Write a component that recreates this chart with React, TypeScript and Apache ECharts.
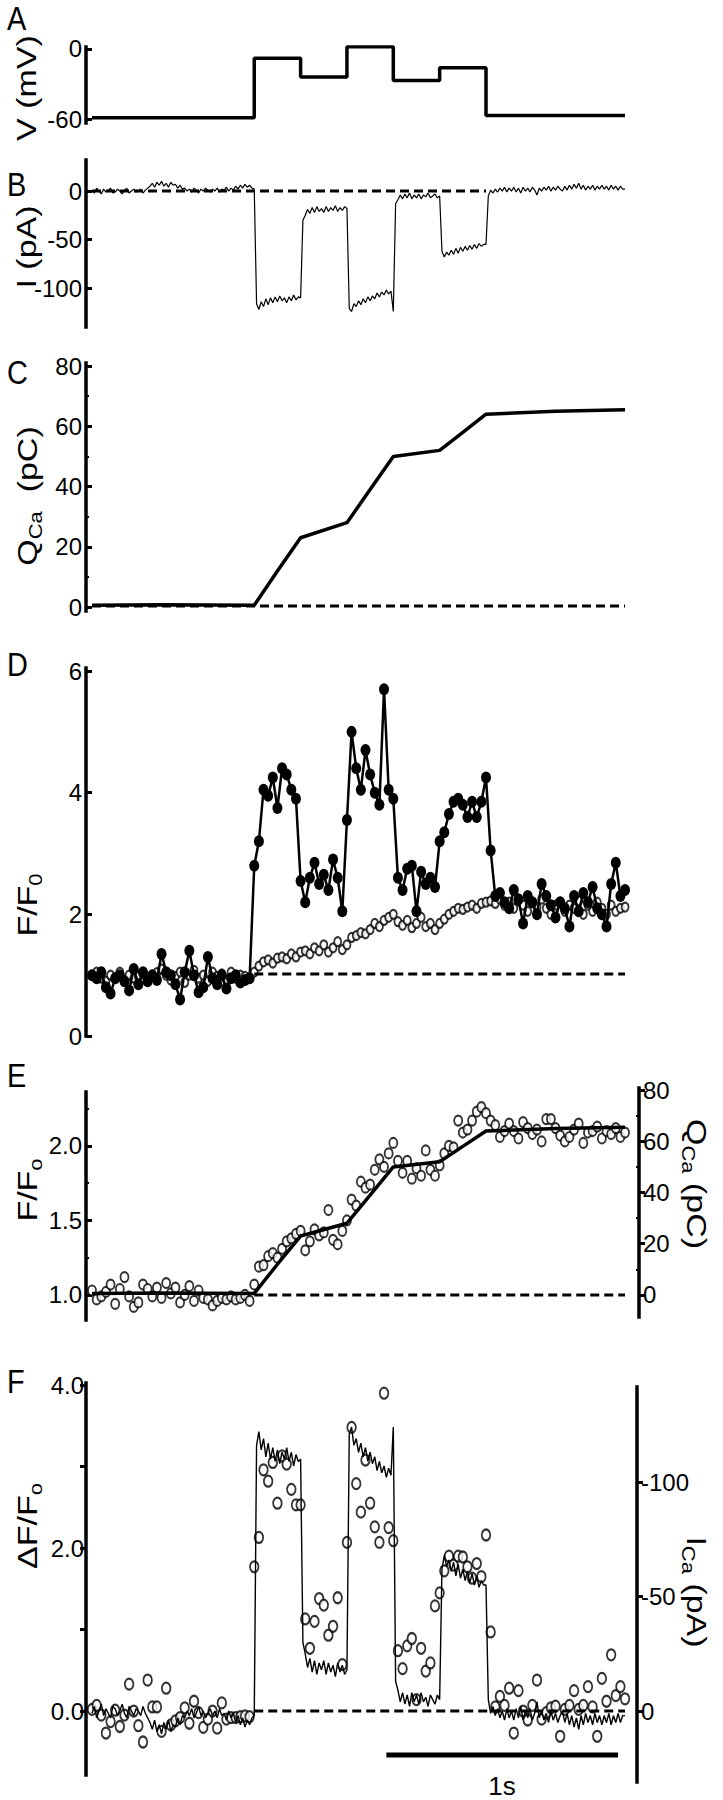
import React, { useEffect, useRef } from "react";
import * as echarts from "echarts";

const FONT = '"Liberation Sans", Arial, Helvetica, sans-serif';

// ---------- time base (ms) ----------
const traceStepMs = 10;
const imageStepMs = 20;

// ---------- A: voltage protocol ----------
const stepEdgesMs = [0, 700, 900, 1100, 1300, 1500, 1700, 2300];
const voltageMV = [-59, -8, -24, 2, -27, -16, -57];
const vTicks = [0, -60];

// ---------- B / F: calcium current (pA), one sample every 10 ms ----------
const currentPA = [
  1, -2, 3, 0, -3, 2, -1, 1, 3, -2,
  -1, 2, 0, -3, 1, 3, -2, 0, 2, -1,
  0, 2, -2, 1, 3, 5, 8, 4, 9, 6,
  10, 5, 8, 4, 9, 6, 7, 3, 6, 2,
  3, 0, 2, -1, 3, 1, -2, 2, 0, 3,
  1, -1, 2, 0, 3, -1, 2, 1, 4, 0,
  3, 1, 5, 2, 6, 3, 7, 4, 6, 3,
  2, -116, -122, -114, -119, -111, -117, -110, -115, -109,
  -114, -108, -113, -110, -115, -109, -113, -107, -112, -109,
  -110, -30, -25, -19, -23, -17, -22, -16, -21, -18,
  -22, -16, -21, -17, -20, -15, -21, -17, -20, -16,
  -18, -121, -124, -116, -119, -113, -117, -111, -115, -109,
  -113, -108, -111, -105, -109, -104, -107, -102, -106, -103,
  -124, -13, -9, -4, -8, -3, -7, -2, -8, -4,
  -7, -3, -8, -4, -6, -2, -7, -5, -3, -7,
  -5, -62, -68, -63, -66, -61, -65, -59, -64, -58,
  -62, -57, -61, -56, -60, -55, -59, -54, -57, -55,
  -55, -5, 1, -2, 2, -1, 3, 0, 4, -1,
  3, 0, 4, -1, 3, -2, 4, 0, 3, -1,
  4, 1, -4, 3, 0, 4, 1, 5, 0, 4,
  1, 5, 2, 0, 5, 1, 6, 2, 7, 3,
  8, 2, 6, 1, 5, 2, 6, 1, 5, 2,
  6, 2, 5, 1, 6, 2, 5, 1, 5, 2,
  2,
];
const iTicksB = [0, -50, -100];
const iTicksF = [-100, -50, 0];
const zeroLineB = [[0, 0], [1700, 0]];

// ---------- C / E: integrated charge (pC) ----------
const chargeTimeMs = [0, 300, 700, 800, 900, 1100, 1200, 1300, 1500, 1600, 1700, 2000, 2300];
const chargePC = [0.6, 0.8, 0.6, 12, 23, 28, 39, 50, 52, 58, 64, 65, 65.5];
const qTicks = [0, 20, 40, 60, 80];
const qMinorTicks = [10, 30, 50, 70];
const zeroLineC = [[0, 0.4], [2300, 0.4]];

// ---------- D: F/F0, one image every 20 ms ----------
const fluoFilledD = [
  1.0, 0.95, 1.05, 0.8, 0.7, 0.95, 1.0, 0.9, 0.75, 1.1,
  0.85, 1.05, 0.9, 1.0, 0.92, 1.35, 1.05, 1.0, 0.85, 0.6,
  1.05, 1.4, 1.0, 0.72, 0.8, 1.3, 0.95, 0.85, 1.0, 0.78,
  0.95, 1.0, 0.88, 0.92, 0.95,
  2.8, 3.2, 4.05, 3.95, 4.25, 3.75, 4.4, 4.3, 4.05, 3.9,
  2.55, 2.2, 2.6, 2.85, 2.5, 2.65, 2.4, 2.9, 2.6, 2.05,
  3.55, 5.0, 4.4, 4.05, 4.7, 4.3, 4.0, 3.8, 5.7, 4.05,
  3.9, 2.6, 2.4, 2.75, 2.8, 2.05, 2.7, 2.5, 2.6, 2.45,
  3.2, 3.35, 3.65, 3.85, 3.9, 3.8, 3.6, 3.85, 3.6, 3.85,
  4.25, 3.05, 2.3, 2.35, 2.2, 2.1, 2.4, 2.25, 1.85, 2.3,
  2.2, 2.0, 2.5, 2.3, 2.15, 1.95, 2.2, 2.1, 1.8, 2.3,
  2.05, 2.35, 2.2, 2.45, 2.1, 2.0, 1.8, 2.5, 2.85, 2.3,
  2.4,
];
const fluoOpenD = [
  1.0, 1.05, 0.95, 0.9, 1.0, 0.95, 1.05, 0.9, 1.0, 0.95,
  0.98, 1.02, 0.94, 1.0, 1.04, 1.1, 1.0, 0.92, 0.98, 1.05,
  0.88, 1.0, 1.08, 0.95, 1.0, 0.9, 1.05, 0.98, 1.02, 0.92,
  1.05, 0.95, 1.0, 0.98, 0.95,
  1.05, 1.15, 1.22, 1.25, 1.2, 1.28, 1.3, 1.27, 1.35, 1.3,
  1.38, 1.4, 1.35, 1.45, 1.4, 1.5, 1.38, 1.45, 1.55, 1.42,
  1.5, 1.62, 1.65, 1.7, 1.68, 1.75, 1.85, 1.8, 1.9, 1.95,
  2.0, 1.88, 1.82, 1.9, 1.78, 1.85, 1.95, 1.8, 1.85, 1.75,
  1.85, 1.92, 2.0, 2.05, 2.1, 2.08, 2.12, 2.15, 2.1, 2.18,
  2.2, 2.22, 2.18, 2.25, 2.15, 2.2, 2.1, 2.22, 2.15, 2.05,
  2.2, 2.12, 2.25, 2.1, 2.0, 2.15, 2.2, 2.05, 2.15, 2.1,
  2.22, 2.0, 2.15, 2.05, 2.2, 2.1, 2.0, 2.15, 2.05, 2.1,
  2.12,
];
const dTicks = [0, 2, 4, 6];
const baselineD = [[700, 1.02], [2300, 1.02]];

// ---------- E: F/F0 (open circles) ----------
const fluoOpenE = [
  1.03, 0.97, 0.99, 1.02, 1.07, 0.94, 1.04, 1.12, 0.99, 0.92,
  0.95, 1.07, 1.04, 0.99, 1.05, 0.98, 1.08, 1.01, 1.05, 0.95,
  1.0, 1.06, 0.96, 1.03, 0.98,
  0.97, 0.93, 0.96, 0.98, 0.97, 0.99, 0.97, 0.98, 1.0, 0.96,
  1.07, 1.19, 1.2, 1.26, 1.28, 1.25, 1.31, 1.36, 1.38, 1.41,
  1.43, 1.3, 1.36, 1.44, 1.4, 1.42, 1.57, 1.37, 1.34, 1.43,
  1.5, 1.64, 1.6, 1.76, 1.72, 1.74, 1.84, 1.91, 1.86, 1.95,
  2.02, 1.9, 1.82, 1.9, 1.78, 1.85, 1.8, 1.97, 1.84, 1.8,
  1.87, 1.95, 2.0, 1.99, 2.17, 2.09, 2.11, 2.17, 2.23, 2.26,
  2.22, 2.17, 2.14, 2.06, 2.1, 2.15, 2.1, 2.05, 2.16, 2.12,
  2.08, 2.11, 2.03, 2.18, 2.18, 2.12, 2.07, 2.03, 2.06, 2.11,
  2.15, 2.02, 2.09, 2.1, 2.13, 2.05, 2.1, 2.08, 2.12, 2.06,
  2.09,
];
const eTicks = [1.0, 1.5, 2.0];
const eMinorTicks = [1.25, 1.75, 2.25];
const zeroLineE = [[700, 0], [2300, 0]];

// ---------- F: dF/F0 (open circles) ----------
const dFF0 = [
  0.02, 0.07, -0.05, -0.27, -0.13, 0.01, -0.19, -0.05, 0.33, 0.0,
  -0.18, -0.38, 0.38, 0.05, 0.05, -0.25, 0.28, -0.17, -0.12, -0.08,
  0.04, -0.15, 0.12, -0.02, -0.2,
  -0.1, 0.0, -0.21, 0.1, -0.1, -0.08, -0.08, -0.07, -0.06, -0.07,
  1.77, 2.13, 2.96, 2.82, 3.05, 2.55, 3.13, 3.03, 2.72, 2.53,
  2.53, 1.13, 0.77, 1.1, 1.38, 1.3, 0.93, 1.04, 1.39, 0.57,
  2.07, 3.48, 2.79, 2.44, 3.08, 2.55, 2.26, 2.07, 3.9, 2.25,
  2.09, 0.74, 0.52, 0.8, 0.89, 0.14, 0.77, 0.49, 0.59, 1.29,
  1.45, 1.72, 1.9, 1.79, 1.9, 1.89, 1.77, 1.63, 1.81, 1.65,
  2.16, 0.97, 0.05, 0.18, 0.07, 0.28, -0.27, 0.25, 0.0, -0.11,
  0.07, 0.38, -0.1, -0.02, 0.04, 0.06, -0.31, 0.02, 0.07, 0.25,
  0.02, 0.07, 0.3, 0.05, -0.31, 0.4, 0.12, 0.69, 0.19, 0.3,
  0.15,
];
const fTicks = [0, 1, 2, 3, 4];
const fLabels = [0, 2, 4];
const zeroLineF = [[700, 0], [2300, 0]];
const scaleBarMs = [1270, 2270];
const scaleBarLevel = -0.54;

// ---------- layout ----------
const GRID_LEFT = 86;
const GRID_WIDTH = 546;
const X_MIN = -26;
const X_MAX = 2330;
const grids = [
  { top: 47, height: 76 }, // A
  { top: 160, height: 167 }, // B
  { top: 363, height: 248 }, // C
  { top: 668, height: 368 }, // D
  { top: 1092, height: 228 }, // E left
  { top: 1088, height: 229 }, // E right
  { top: 1383, height: 392 }, // F left
  { top: 1387, height: 395 }, // F right
];

const TICK_SIZE = 24;
const NAME_SIZE = 34;
const SUB_SIZE = 22;
const NAME_SQUEEZE = 0.8;
const ELLIPSE = "path://M0,-10A10,10,0,1,1,0,10A10,10,0,1,1,0,-10Z";

function withTime(values: number[], dt: number) {
  return values.map((v, i) => [i * dt, v]);
}

function yAxis(o: any) {
  const ax: any = {
    type: "value",
    gridIndex: o.grid,
    position: o.position || "left",
    offset: o.offset || 0,
    min: o.min,
    max: o.max,
    inverse: !!o.inverse,
    axisLine: { show: true, onZero: false, lineStyle: { color: "#000", width: 3.5, cap: "square" } },
    axisTick: {
      show: true,
      inside: !!o.inside,
      length: 6,
      customValues: o.ticks,
      lineStyle: { color: "#000", width: 3 },
    },
    axisLabel: {
      show: true,
      customValues: o.labels || o.ticks,
      margin: o.margin ?? 4,
      color: "#000",
      fontSize: o.fontSize || TICK_SIZE,
      fontFamily: FONT,
    },
    splitLine: { show: false },
  };
  if (o.fmt) ax.axisLabel.formatter = o.fmt;
  return ax;
}

function minorAxis(grid: number, min: number, max: number, ticks: number[], position: string, offset: number, inside: boolean) {
  return {
    type: "value",
    gridIndex: grid,
    position,
    offset,
    min,
    max,
    axisLine: { show: false, onZero: false },
    axisTick: { show: true, inside, length: 3, customValues: ticks, lineStyle: { color: "#000", width: 2 } },
    axisLabel: { show: false },
    splitLine: { show: false },
  };
}

function measure(text: string, size: number) {
  const c = document.createElement("canvas").getContext("2d");
  if (!c) return text.length * size * 0.55;
  c.font = `${size}px ${FONT}`;
  return c.measureText(text).width;
}

// parts: [text, isSubscript]
function rotLabel(parts: [string, boolean][], cx: number, cy: number, rotation: number) {
  const size = NAME_SIZE;
  const subSize = SUB_SIZE;
  const widths = parts.map(([t, sub]) => measure(t, sub ? subSize : size));
  const total = widths.reduce((a, b) => a + b, 0);
  let x = -total / 2;
  const children = parts.map(([t, sub], i) => {
    const el = {
      type: "text",
      x,
      y: sub ? size * 0.5 - subSize * 0.35 : 0,
      style: {
        text: t,
        fontSize: sub ? subSize : size,
        fontFamily: FONT,
        fill: "#000",
        align: "left",
        verticalAlign: "middle",
      },
    };
    x += widths[i];
    return el;
  });
  return { type: "group", x: cx, y: cy, rotation, scaleY: NAME_SQUEEZE, children };
}

function letter(t: string, y: number) {
  return {
    type: "text",
    x: 7,
    y,
    scaleX: 0.85,
    style: { text: t, fontSize: 34, fontFamily: FONT, fill: "#000", align: "left", verticalAlign: "middle" },
  };
}

function buildOption() {
  const voltageData: number[][] = [];
  voltageMV.forEach((v, i) => {
    voltageData.push([stepEdgesMs[i], v]);
    voltageData.push([stepEdgesMs[i + 1], v]);
  });
  const currentData = withTime(currentPA, traceStepMs);
  const chargeData = chargeTimeMs.map((t, i) => [t, chargePC[i]]);

  const line = (idx: number, data: any, width: number, extra: any = {}) => ({
    type: "line",
    xAxisIndex: idx,
    yAxisIndex: idx,
    data,
    symbol: "none",
    silent: true,
    lineStyle: { color: "#000", width },
    ...extra,
  });
  const dashed = (idx: number, data: any) => ({
    type: "line",
    xAxisIndex: idx,
    yAxisIndex: idx,
    data,
    symbol: "none",
    silent: true,
    lineStyle: { color: "#000", width: 3, type: [9, 5], cap: "butt" },
  });
  const openCircles = (idx: number, data: any, size: number[]) => ({
    type: "scatter",
    xAxisIndex: idx,
    yAxisIndex: idx,
    data,
    symbol: ELLIPSE,
    symbolSize: size,
    silent: true,
    itemStyle: { color: "#fff", borderColor: "#000", borderWidth: 2 },
  });

  const R = -Math.PI / 2;
  const L = Math.PI / 2;

  return {
    animation: false,
    backgroundColor: "#fff",
    grid: grids.map((g) => ({ left: GRID_LEFT, width: GRID_WIDTH, top: g.top, height: g.height })),
    xAxis: grids.map((_, i) => ({ type: "value", gridIndex: i, min: X_MIN, max: X_MAX, show: false })),
    yAxis: [
      yAxis({ grid: 0, min: -63.4, max: 1.7, ticks: vTicks, inside: true }),
      yAxis({ grid: 1, min: -140, max: 32, ticks: iTicksB, inside: true }),
      yAxis({ grid: 2, min: -1.3, max: 81, ticks: qTicks, inside: true }),
      yAxis({ grid: 3, min: 0, max: 6.05, ticks: dTicks, inside: true }),
      yAxis({ grid: 4, min: 0.832, max: 2.362, ticks: eTicks, inside: true, fmt: (v: number) => v.toFixed(1) }),
      yAxis({ grid: 5, min: -8.6, max: 80.8, ticks: qTicks, position: "right", offset: 7 }),
      yAxis({ grid: 6, min: -0.785, max: 4.025, ticks: fTicks, labels: fLabels, margin: 2, fmt: (v: number) => v.toFixed(1) }),
      yAxis({ grid: 7, min: -141.5, max: 31, ticks: iTicksF, inverse: true, position: "right", offset: 5 }),
      minorAxis(2, -1.3, 81, qMinorTicks, "left", 0, true),
      minorAxis(4, 0.832, 2.362, eMinorTicks, "left", 0, true),
      minorAxis(5, -8.6, 80.8, qMinorTicks, "right", 7, true),
    ],
    series: [
      // A
      line(0, voltageData, 3.5),
      // B
      dashed(1, zeroLineB),
      line(1, currentData, 1.2),
      // C
      dashed(2, zeroLineC),
      line(2, chargeData, 3.5),
      // D
      dashed(3, baselineD),
      {
        type: "line",
        xAxisIndex: 3,
        yAxisIndex: 3,
        data: withTime(fluoFilledD, imageStepMs),
        symbol: ELLIPSE,
        symbolSize: [10, 12],
        showSymbol: true,
        showAllSymbol: true,
        silent: true,
        lineStyle: { color: "#000", width: 2.5 },
        itemStyle: { color: "#000", borderWidth: 0 },
      },
      openCircles(3, withTime(fluoOpenD, imageStepMs), [7, 9]),
      // E
      dashed(5, zeroLineE),
      line(5, chargeData, 3.5),
      openCircles(4, withTime(fluoOpenE, imageStepMs), [8, 10]),
      // F
      dashed(6, zeroLineF),
      line(7, currentData, 1.4),
      openCircles(6, withTime(dFF0, imageStepMs), [8.5, 11]),
      line(6, scaleBarMs.map((t) => [t, scaleBarLevel]), 5, { lineStyle: { color: "#000", width: 5, cap: "butt" } }),
    ],
    graphic: [
      letter("A", 18),
      letter("B", 184),
      letter("C", 372),
      letter("D", 664),
      letter("E", 1075),
      letter("F", 1381),
      rotLabel([["V (mV)", false]], 27, 88, L),
      rotLabel([["I (pA)", false]], 27, 247, L),
      rotLabel([["Q", false], ["Ca", true], ["  (pC)", false]], 28, 496, L),
      rotLabel([["F/F", false], ["0", true]], 28, 905, L),
      rotLabel([["F/F", false], ["o", true]], 28, 1190, L),
      rotLabel([["Q", false], ["Ca", true], [" (pC)", false]], 696, 1184, R),
      rotLabel([["\u0394F/F", false], ["o", true]], 28, 1526, L),
      rotLabel([["I", false], ["Ca", true], [" (pA)", false]], 696, 1592, R),
      {
        type: "text",
        x: 502,
        y: 1786,
        style: { text: "1s", fontSize: 26, fontFamily: FONT, fill: "#000", align: "center", verticalAlign: "middle" },
      },
    ],
  };
}

export default function App() {
  const ref = useRef<HTMLDivElement>(null);
  useEffect(() => {
    if (!ref.current) return;
    const chart = echarts.init(ref.current, undefined, { renderer: "svg" });
    chart.setOption(buildOption() as any);
    return () => chart.dispose();
  }, []);
  return (
    <div
      ref={ref}
      style={{ position: "absolute", left: 0, top: 0, width: 723, height: 1800, background: "#fff" }}
    />
  );
}
